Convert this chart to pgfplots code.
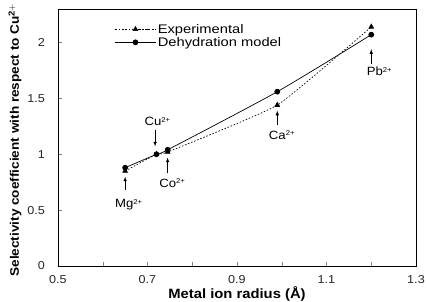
\documentclass[border=0pt]{standalone}
\usepackage{pgfplots}
\pgfplotsset{compat=1.18}
\usepackage{fontspec}
\setmainfont{Liberation Sans}[FakeStretch=1.1]
\newfontfamily\legfont{Liberation Sans}[FakeStretch=1.18]
\newcommand{\tp}{\raisebox{0.55ex}{\fontsize{7}{7}\selectfont 2+}}
\begin{document}
\begin{tikzpicture}
\begin{axis}[
  name=ax,
  scale only axis, width=358bp, height=257bp,
  xmin=0.5, xmax=1.3, ymin=0, ymax=2.3,
  xtick={0.5,0.7,0.9,1.1,1.3}, minor xtick={0.6,0.8,1.0,1.2},
  ytick={0,0.5,1,1.5,2},
  tick align=inside, xtick pos=bottom, ytick pos=left,
  major tick length=4pt, minor tick length=4pt,
  tick label style={font=\fontsize{11.5}{13}\selectfont, color=black!85},
  xticklabel style={anchor=center, yshift=-14bp, inner sep=0pt},
  yticklabel style={anchor=east, xshift=-13bp, inner sep=0pt},
  /pgf/number format/assume math mode=true,
  xlabel={\textbf{Metal ion radius (Å)}},
  ylabel={\textbf{Selectivity coefficient with respect to Cu$^{\mathbf{2+}}$}},
  xlabel style={font=\fontsize{13.5}{15}\selectfont, at={(axis description cs:0.5,-0.109)}, anchor=center},
  ylabel style={font=\fontsize{12.4}{14}\selectfont, at={(axis description cs:-0.12,0.49)}, anchor=center},
  legend style={at={(0.159,0.95)}, anchor=north west, draw=none, fill=none,
    font=\legfont\fontsize{12.5}{13}\selectfont, row sep=-1.5pt, inner sep=0pt},
  legend cell align=left,
  legend image code/.code={\draw[mark repeat=2, mark phase=2, #1] plot coordinates {(0bp,0bp) (20bp,0bp) (40bp,0bp)};},
  axis line style={line width=0.8pt},
  clip=false,
]
\addplot[black, dash pattern=on 1.5pt off 1.8pt, line width=0.7pt, smooth, tension=0.25,
  mark=triangle*, mark size=2.7pt, mark options={solid}]
  coordinates {(0.65,0.85) (0.72,1.00) (0.745,1.02) (0.99,1.44) (1.2,2.14)};
\addlegendentry{Experimental}
\addplot[black, line width=0.7pt, smooth, tension=0.4,
  mark=*, mark size=2.5pt]
  coordinates {(0.65,0.88) (0.72,1.00) (0.745,1.04) (0.99,1.56) (1.2,2.07)};
\addlegendentry{Dehydration model}
\tikzset{lab/.style={font=\fontsize{12}{13}\selectfont, inner sep=1pt}}
\node[lab] at (axis cs:0.722,1.29) {Cu\tp};
\draw[-latex, line width=0.6pt] (axis cs:0.717,1.22) -- (axis cs:0.717,1.07);
\node[lab] at (axis cs:0.755,0.74) {Co\tp};
\draw[-latex, line width=0.6pt] (axis cs:0.745,0.83) -- (axis cs:0.745,0.97);
\node[lab] at (axis cs:0.658,0.55) {Mg\tp};
\draw[-latex, line width=0.6pt] (axis cs:0.65,0.68) -- (axis cs:0.65,0.80);
\node[lab] at (axis cs:1.0,1.17) {Ca\tp};
\draw[-latex, line width=0.6pt] (axis cs:0.99,1.26) -- (axis cs:0.99,1.39);
\node[lab] at (axis cs:1.218,1.74) {Pb\tp};
\draw[-latex, line width=0.6pt] (axis cs:1.2,1.81) -- (axis cs:1.2,1.94);
\end{axis}
\pgfresetboundingbox
\path ([shift={(-58bp,-36bp)}]ax.south west) rectangle ([shift={(12bp,9bp)}]ax.north east);
\end{tikzpicture}
\end{document}
